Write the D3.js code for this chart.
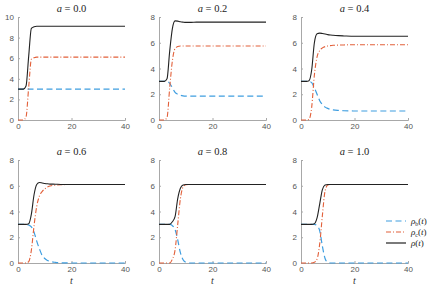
<!DOCTYPE html>
<html><head><meta charset="utf-8">
<script src="https://cdn.jsdelivr.net/npm/d3@7"></script>
<style>
body{margin:0;background:#fff;}
svg{display:block;}
.tick text{font-family:"Liberation Sans",Arial,sans-serif;font-size:8px;fill:#555;}
</style></head>
<body>
<svg id="chart" width="436" height="292"></svg>
<script>
const times = [0,1,2,3,4,5,6,7,8,9,10,11,12,14,16,20,25,30,40];
const alphas = ["0.0","0.2","0.4","0.6","0.8","1.0"];
const yMax = [10,8,8,8,8,8];
const xTicks = [0,20,40];

const rhoB = [
  [3,3,3,3,3,3,3,3,3,3,3,3,3,3,3,3,3,3,3],
  [3,3,3,3,2.85,2.5,2.15,2.0,1.92,1.88,1.86,1.85,1.85,1.85,1.85,1.85,1.85,1.85,1.85],
  [3,3,3,3,2.9,2.5,2.0,1.5,1.2,1.0,0.9,0.82,0.78,0.74,0.72,0.7,0.7,0.7,0.7],
  [3,3,3,3,2.95,2.8,2.4,1.7,1.1,0.6,0.35,0.2,0.12,0.05,0.02,0,0,0,0],
  [3,3,3,3,3,2.9,2.6,1.8,0.8,0.25,0.05,0,0,0,0,0,0,0,0],
  [3,3,3,3,3,3,2.9,2.5,1.3,0.35,0.05,0,0,0,0,0,0,0,0]
];
const rhoC = [
  [0,0,0,0.3,3.2,5.9,6.05,6.1,6.1,6.1,6.1,6.1,6.1,6.1,6.1,6.1,6.1,6.1,6.1],
  [0,0,0,0.2,2.5,4.6,5.55,5.7,5.75,5.75,5.75,5.75,5.75,5.75,5.75,5.75,5.75,5.75,5.75],
  [0,0,0,0.05,1.0,3.5,4.9,5.4,5.6,5.7,5.75,5.78,5.8,5.82,5.83,5.85,5.85,5.85,5.85],
  [0,0,0,0,0.1,1.0,2.9,4.4,5.2,5.55,5.75,5.9,5.98,6.05,6.08,6.1,6.1,6.1,6.1],
  [0,0,0,0,0,0.3,1.0,3.0,5.0,5.9,6.08,6.1,6.1,6.1,6.1,6.1,6.1,6.1,6.1],
  [0,0,0,0,0,0.05,0.3,1.5,3.7,5.6,6.05,6.1,6.1,6.1,6.1,6.1,6.1,6.1,6.1]
];
const rhoT = [
  [3,3,3,3.3,6.2,8.9,9.05,9.1,9.1,9.1,9.1,9.1,9.1,9.1,9.1,9.1,9.1,9.1,9.1],
  [3,3,3,3.2,5.35,7.1,7.7,7.68,7.63,7.6,7.58,7.58,7.58,7.6,7.6,7.6,7.6,7.6,7.6],
  [3,3,3,3.05,3.9,6.0,6.7,6.75,6.72,6.68,6.63,6.6,6.58,6.55,6.53,6.5,6.5,6.5,6.5],
  [3,3,3,3,3.05,3.8,5.3,6.1,6.25,6.22,6.18,6.15,6.13,6.12,6.1,6.1,6.1,6.1,6.1],
  [3,3,3,3,3,3.2,3.6,5.0,5.8,6.05,6.1,6.1,6.1,6.1,6.1,6.1,6.1,6.1,6.1],
  [3,3,3,3,3,3.05,3.5,4.6,5.7,6.05,6.1,6.1,6.1,6.1,6.1,6.1,6.1,6.1,6.1]
];

const colB = "#3f9ee0", colC = "#e2603a", colT = "#222";
const svg = d3.select("#chart");
const colX = [18,159,301], rowY = [17,160], W = 107, H = 103;
const axisCol = "#a8a8a8";

alphas.forEach((al, i) => {
  const c = i % 3, r = Math.floor(i / 3);
  const g = svg.append("g").attr("transform", `translate(${colX[c]},${rowY[r]})`);
  const x = d3.scaleLinear().domain([0,40]).range([0,W]);
  const y = d3.scaleLinear().domain([0,yMax[i]]).range([H,0]);
  const xa = g.append("g").attr("transform", `translate(0,${H})`)
    .call(d3.axisBottom(x).tickValues(xTicks).tickSize(-2).tickPadding(3));
  const ya = g.append("g")
    .call(d3.axisLeft(y).tickValues(d3.range(0, yMax[i] + 0.1, 2)).tickSize(-2).tickPadding(4));
  [xa, ya].forEach(a => {
    a.select(".domain").attr("stroke", axisCol);
    a.selectAll(".tick line").attr("stroke", axisCol);
  });
  const line = arr => d3.line().x((d, k) => x(times[k])).y(d => y(d)).curve(d3.curveMonotoneX)(arr);
  g.append("path").attr("d", line(rhoB[i])).attr("fill","none").attr("stroke",colB)
    .attr("stroke-width",1.2).attr("stroke-dasharray","6,3.5");
  g.append("path").attr("d", line(rhoC[i])).attr("fill","none").attr("stroke",colC)
    .attr("stroke-width",1.1).attr("stroke-dasharray","5,2,1,2");
  g.append("path").attr("d", line(rhoT[i])).attr("fill","none").attr("stroke",colT)
    .attr("stroke-width",1.1);
  const t = g.append("text").attr("x", W/2).attr("y", -5).attr("text-anchor","middle")
    .attr("font-family","'Liberation Serif','DejaVu Serif',serif").attr("font-size",10.5).attr("fill","#222");
  t.append("tspan").attr("font-style","italic").text("a");
  t.append("tspan").text(" = " + al);
  if (r === 1) {
    g.append("text").attr("x", W/2).attr("y", H + 21).attr("text-anchor","middle")
      .attr("font-family","'Liberation Serif',serif").attr("font-style","italic")
      .attr("font-size",10).attr("fill","#333").text("t");
  }
});

// legend
const legItems = [
  {sub:"b", col:colB, dash:"6,3.5"},
  {sub:"c", col:colC, dash:"5,2,1,2"},
  {sub:null, col:colT, dash:null}
];
const lg = svg.append("g").attr("transform","translate(386,221)");
legItems.forEach((d, k) => {
  const yy = k * 11;
  lg.append("line").attr("x1",0).attr("x2",20).attr("y1",yy).attr("y2",yy)
    .attr("stroke",d.col).attr("stroke-width",1.2).attr("stroke-dasharray",d.dash);
  const tx = lg.append("text").attr("x",25).attr("y",yy+3)
    .attr("font-family","'Liberation Serif',serif").attr("font-size",9).attr("fill","#222");
  tx.append("tspan").attr("font-style","italic").text("ρ");
  if (d.sub) tx.append("tspan").attr("font-size",6).attr("dy",1.5).text(d.sub);
  tx.append("tspan").attr("dy", d.sub ? -1.5 : 0).text("(");
  tx.append("tspan").attr("font-style","italic").text("t");
  tx.append("tspan").text(")");
});
</script>
</body></html>
